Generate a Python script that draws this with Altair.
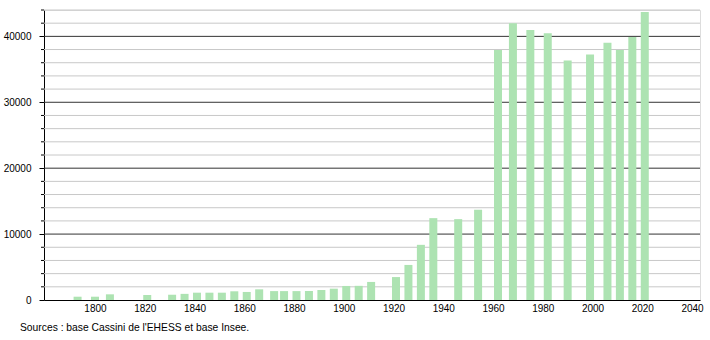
import altair as alt
import pandas as pd

years = [1793, 1800, 1806, 1821, 1831, 1836, 1841, 1846, 1851, 1856, 1861, 1866,
         1872, 1876, 1881, 1886, 1891, 1896, 1901, 1906, 1911, 1921, 1926, 1931,
         1936, 1946, 1954, 1962, 1968, 1975, 1982, 1990, 1999, 2006, 2011, 2016, 2021]
population = [500, 500, 860, 760, 800, 930, 1110, 1110, 1110, 1320, 1220, 1620,
              1350, 1350, 1350, 1370, 1520, 1720, 2130, 2150, 2740, 3480, 5320, 8370,
              12420, 12270, 13690, 37920, 41980, 40960, 40460, 36350, 37260, 39040, 37920, 39900, 43700]
x_ticks = [1800, 1820, 1840, 1860, 1880, 1900, 1920, 1940, 1960, 1980, 2000, 2020, 2040]
y_major = [10000, 20000, 30000, 40000]
y_minor = [2000, 4000, 6000, 8000, 12000, 14000, 16000, 18000, 22000, 24000, 26000,
           28000, 32000, 34000, 36000, 38000, 42000, 44000]
y_labels = [0, 10000, 20000, 30000, 40000]
source = ["Sources : base Cassini de l'EHESS et base Insee."]

W, H = 656, 290
FONT = "Liberation Sans"

df = pd.DataFrame({"year": years, "pop": population})
minor_df = pd.DataFrame({"v": y_minor})
major_df = pd.DataFrame({"v": y_major})
src_df = pd.DataFrame({"t": source})

xscale = alt.Scale(domain=[1779.5, 2043.2], nice=False, zero=False, padding=0)
yscale = alt.Scale(domain=[0, 44000], nice=False, padding=0)

yaxis = alt.Axis(values=y_labels, format="d", tickSize=5, tickColor="#000000",
                 labelPadding=8, grid=False, domainColor="#000000",
                 labelFont=FONT, labelFontSize=10, labelColor="#000000", title=None)

minor_grid = alt.Chart(minor_df).mark_rule(color="#c8c8c8", strokeWidth=1).encode(
    y=alt.Y("v:Q", scale=yscale, axis=yaxis, title=None),
    x=alt.value(0), x2=alt.value(W),
)
minor_ticks = alt.Chart(minor_df).mark_rule(color="#000000", strokeWidth=1).encode(
    y=alt.Y("v:Q", scale=yscale, axis=yaxis, title=None),
    x=alt.value(-3), x2=alt.value(0),
)
major_grid = alt.Chart(major_df).mark_rule(color="#333333", strokeWidth=1).encode(
    y=alt.Y("v:Q", scale=yscale, axis=yaxis, title=None),
    x=alt.value(0), x2=alt.value(W),
)

bars = alt.Chart(df).mark_bar(size=8, color="#ade3b2").encode(
    x=alt.X("year:Q", scale=xscale, title=None,
            axis=alt.Axis(values=x_ticks, format="d", tickSize=0, labelPadding=3,
                          grid=False, domainColor="#000000", labelFont=FONT,
                          labelFontSize=10, labelColor="#000000")),
    y=alt.Y("pop:Q", scale=yscale, title=None, axis=yaxis),
)

src = alt.Chart(src_df).mark_text(align="left", baseline="middle", font=FONT,
                                  fontSize=10.3, color="#000000").encode(
    text="t:N", x=alt.value(-24), y=alt.value(H + 28),
)

chart = alt.layer(minor_grid, major_grid, bars, minor_ticks, src).properties(
    width=W, height=H,
    autosize=alt.AutoSizeParams(type="none"),
    padding={"left": 44, "top": 10, "right": 10, "bottom": 40},
).configure_view(stroke=None).configure(background="white")

chart.save("out.html", embed_options={"renderer": "svg", "actions": False})
